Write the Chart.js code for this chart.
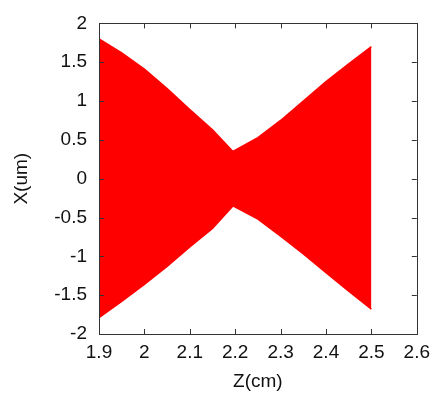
<!DOCTYPE html>
<html>
<head>
<meta charset="utf-8">
<script src="https://cdn.jsdelivr.net/npm/chart.js@4/dist/chart.umd.min.js"></script>
<style>
  html, body { margin: 0; padding: 0; background: #fff; }
  #wrap { width: 437px; height: 399px; }
</style>
</head>
<body>
<div id="wrap"><canvas id="myChart" width="437" height="399"></canvas></div>
<script>
// Z positions (cm) where the beam envelope was read
const zValues = [1.9, 1.95, 2.0, 2.05, 2.1, 2.15, 2.195, 2.25, 2.3, 2.35, 2.4, 2.45, 2.5];
// upper and lower edge of the red band, X (um)
const upperX = [1.80, 1.62, 1.41, 1.16, 0.89, 0.63, 0.35, 0.53, 0.75, 1.00, 1.25, 1.48, 1.70];
const lowerX = [-1.79, -1.58, -1.36, -1.13, -0.88, -0.64, -0.35, -0.52, -0.74, -0.97, -1.21, -1.45, -1.68];

// tick labels
const zTicks = [1.9, 2, 2.1, 2.2, 2.3, 2.4, 2.5, 2.6];
const xTicks = [-2, -1.5, -1, -0.5, 0, 0.5, 1, 1.5, 2];

const red = '#ff0000';
const font = { family: '"Liberation Sans", Arial, sans-serif', size: 19 };

// frame round the plot and short ticks pointing inwards on all four sides
const frameTicks = {
    id: 'frameTicks',
    afterDatasetsDraw(chart) {
        const ctx = chart.ctx;
        const a = chart.chartArea;
        const xs = chart.scales.x;
        const ys = chart.scales.y;
        const len = 5;
        ctx.save();
        ctx.strokeStyle = '#333';
        ctx.lineWidth = 1;
        ctx.beginPath();
        xs.ticks.forEach(t => {
            const px = Math.round(xs.getPixelForValue(t.value)) + 0.5;
            ctx.moveTo(px, a.bottom);
            ctx.lineTo(px, a.bottom - len);
            ctx.moveTo(px, a.top);
            ctx.lineTo(px, a.top + len);
        });
        ys.ticks.forEach(t => {
            const py = Math.round(ys.getPixelForValue(t.value)) + 0.5;
            ctx.moveTo(a.left, py);
            ctx.lineTo(a.left + len, py);
            ctx.moveTo(a.right, py);
            ctx.lineTo(a.right - len, py);
        });
        ctx.stroke();
        ctx.strokeRect(Math.round(a.left) + 0.5, Math.round(a.top) + 0.5,
            Math.round(a.right - a.left), Math.round(a.bottom - a.top));
        ctx.restore();
    }
};

const data = {
    datasets: [{
        label: 'upper',
        data: zValues.map((z, i) => ({ x: z, y: upperX[i] })),
        borderColor: red,
        backgroundColor: red,
        borderWidth: 1.5,
        pointRadius: 0,
        tension: 0,
        fill: '+1'
    }, {
        label: 'lower',
        data: zValues.map((z, i) => ({ x: z, y: lowerX[i] })),
        borderColor: red,
        backgroundColor: red,
        borderWidth: 1.5,
        pointRadius: 0,
        tension: 0,
        fill: false
    }]
};

const config = {
    type: 'line',
    data: data,
    plugins: [frameTicks],
    options: {
        responsive: false,
        animation: false,
        layout: { padding: { left: 0, top: 18, right: 20, bottom: 0 } },
        plugins: {
            legend: { display: false },
            tooltip: { enabled: false }
        },
        scales: {
            x: {
                type: 'linear',
                min: 1.9,
                max: 2.6,
                afterBuildTicks: s => { s.ticks = zTicks.map(v => ({ value: v })); },
                afterFit: s => { s.height = 65; },
                grid: { display: false, drawTicks: false },
                border: { display: false },
                ticks: {
                    color: '#111',
                    font: font,
                    padding: 7,
                    autoSkip: false,
                    maxRotation: 0,
                    callback: v => String(v)
                },
                title: {
                    display: true,
                    text: 'Z(cm)',
                    color: '#111',
                    font: font,
                    padding: { top: 0, bottom: 6 }
                }
            },
            y: {
                type: 'linear',
                min: -2,
                max: 2,
                afterBuildTicks: s => { s.ticks = xTicks.map(v => ({ value: v })); },
                afterFit: s => { s.width = 99; },
                grid: { display: false, drawTicks: false },
                border: { display: false },
                ticks: {
                    color: '#111',
                    font: font,
                    padding: 12,
                    autoSkip: false,
                    callback: v => String(v)
                },
                title: {
                    display: true,
                    text: 'X(um)',
                    color: '#111',
                    font: font,
                    padding: { top: 10, bottom: 0 }
                }
            }
        }
    }
};

const myChart = new Chart(
    document.getElementById('myChart'),
    config
);
</script>
</body>
</html>
